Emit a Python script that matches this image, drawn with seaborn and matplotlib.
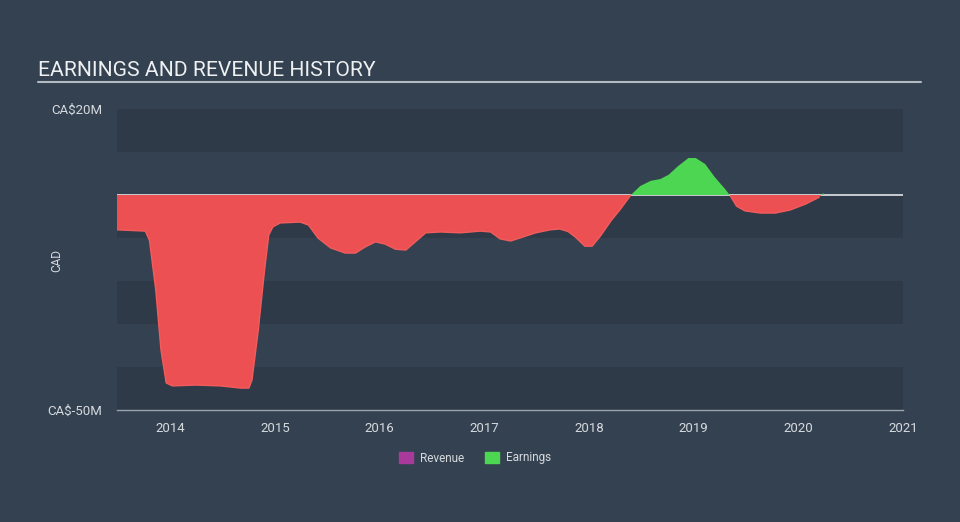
import matplotlib
matplotlib.use("Agg")
import matplotlib.pyplot as plt
from matplotlib.lines import Line2D
from matplotlib.patches import Patch
import numpy as np
import pandas as pd
import seaborn as sns

# ---- data ----
years = [2013.49, 2013.76, 2013.80, 2013.86, 2013.91, 2013.96, 2014.02, 2014.24, 2014.48,
         2014.67, 2014.75, 2014.78, 2014.84, 2014.90, 2014.94, 2014.98, 2015.05, 2015.24,
         2015.32, 2015.41, 2015.53, 2015.67, 2015.77, 2015.86, 2015.96, 2016.05, 2016.15,
         2016.25, 2016.34, 2016.44, 2016.58, 2016.77, 2016.96, 2017.06, 2017.15, 2017.25,
         2017.34, 2017.49, 2017.63, 2017.72, 2017.80, 2017.87, 2017.96, 2018.03, 2018.11,
         2018.21, 2018.30, 2018.40, 2018.49, 2018.59, 2018.68, 2018.76, 2018.85, 2018.95,
         2019.02, 2019.11, 2019.20, 2019.30, 2019.35, 2019.41, 2019.49, 2019.64, 2019.78,
         2019.92, 2020.07, 2020.20, 2020.24]
earnings = [-8.1, -8.4, -10.5, -22.0, -36.0, -43.7, -44.4, -44.2, -44.4,
            -44.9, -44.9, -43.0, -31.4, -17.4, -9.3, -7.4, -6.5, -6.3,
            -7.0, -10.0, -12.3, -13.5, -13.5, -12.1, -10.9, -11.4, -12.6,
            -12.8, -10.9, -8.8, -8.6, -8.8, -8.4, -8.6, -10.2, -10.7,
            -10.0, -8.8, -8.1, -7.9, -8.5, -9.8, -11.9, -11.9, -9.5,
            -6.0, -3.3, 0.0, 2.1, 3.3, 3.7, 4.7, 6.7, 8.6,
            8.6, 7.2, 4.2, 1.4, -0.2, -2.6, -3.7, -4.2, -4.2,
            -3.5, -2.1, -0.5, 0.5]
xticks = [2014, 2015, 2016, 2017, 2018, 2019, 2020, 2021]
ytick_vals = [20, -50]
ytick_labels = ["CA$20M", "CA$-50M"]
legend_labels = ["Revenue", "Earnings"]

# ---- style ----
BG = "#344150"
BAND = "#2e3a48"
RED = "#ec5052"
GREEN = "#4cd651"
PURPLE = "#a93a9c"
TXT = "#d6dadf"

sns.set_style("dark")
plt.rcParams["font.family"] = ["Roboto", "DejaVu Sans"]

fig = plt.figure(figsize=(9.6, 5.22), dpi=100, facecolor=BG)
ax = fig.add_axes([117 / 960, 1 - 410 / 522, (903 - 117) / 960, (410 - 109) / 522])
ax.set_facecolor(BG)

# alternating bands
for lo in [10, -10, -30, -50]:
    ax.axhspan(lo, lo + 10, color=BAND, zorder=0, lw=0)

ax.axhline(0, color="#c9cdd2", lw=1.4, zorder=1)

df = pd.DataFrame({"year": years, "earnings": earnings})
x = df["year"].to_numpy()
y = df["earnings"].to_numpy()
ax.fill_between(x, y, 0, where=y <= 0, interpolate=True, color=RED, lw=0, zorder=2)
ax.fill_between(x, y, 0, where=y >= 0, interpolate=True, color=GREEN, lw=0, zorder=2)

# edge line on the negative runs only (one unit per run)
neg_mask = y <= 0
run_id = np.cumsum(np.r_[True, neg_mask[1:] != neg_mask[:-1]])
neg_df = df[neg_mask].assign(run=run_id[neg_mask])
sns.lineplot(data=neg_df, x="year", y="earnings", units="run", estimator=None,
             ax=ax, color="#f25c5c", lw=1.0, zorder=3)

ax.set_xlim(2013.49, 2021.0)
ax.set_ylim(-50, 20)
ax.set_xticks(xticks)
ax.set_xticklabels([str(t) for t in xticks])
ax.set_yticks(ytick_vals)
ax.set_yticklabels(ytick_labels)
ax.tick_params(axis="x", colors="#9aa4ae", labelcolor=TXT, labelsize=9.5, length=6, width=1, direction="out", pad=3)
ax.tick_params(axis="y", colors=TXT, labelsize=9.5, length=0, pad=10.5)
ax.set_xlabel("")
ax.set_ylabel("")
ax.grid(False)
for s in ["top", "right", "left"]:
    ax.spines[s].set_visible(False)
ax.spines["bottom"].set_visible(True)
ax.spines["bottom"].set_color("#9aa4ae")
ax.spines["bottom"].set_linewidth(1)

# y axis title
fig.text(57 / 960, 1 - 260 / 522, "CAD", rotation=90, color=TXT, fontsize=8.5,
         ha="center", va="center")

# title + underline
fig.text(38 / 960, 1 - 76 / 522, "EARNINGS AND REVENUE HISTORY", color="#eef0f2",
         fontsize=15.2, ha="left", va="baseline")
fig.add_artist(Line2D([38 / 960, 921 / 960], [1 - 82 / 522, 1 - 82 / 522],
                      color="#b4bac1", lw=1.5, transform=fig.transFigure))

handles = [Patch(color=PURPLE, label=legend_labels[0]), Patch(color=GREEN, label=legend_labels[1])]
leg = fig.legend(handles=handles, loc="center", bbox_to_anchor=(475 / 960, 1 - 458 / 522),
                 ncol=2, frameon=False, fontsize=8.5, handlelength=1.2, handleheight=1.0,
                 columnspacing=1.8, handletextpad=0.6)
for t in leg.get_texts():
    t.set_color(TXT)

fig.savefig("out.png", dpi=100, facecolor=BG)
